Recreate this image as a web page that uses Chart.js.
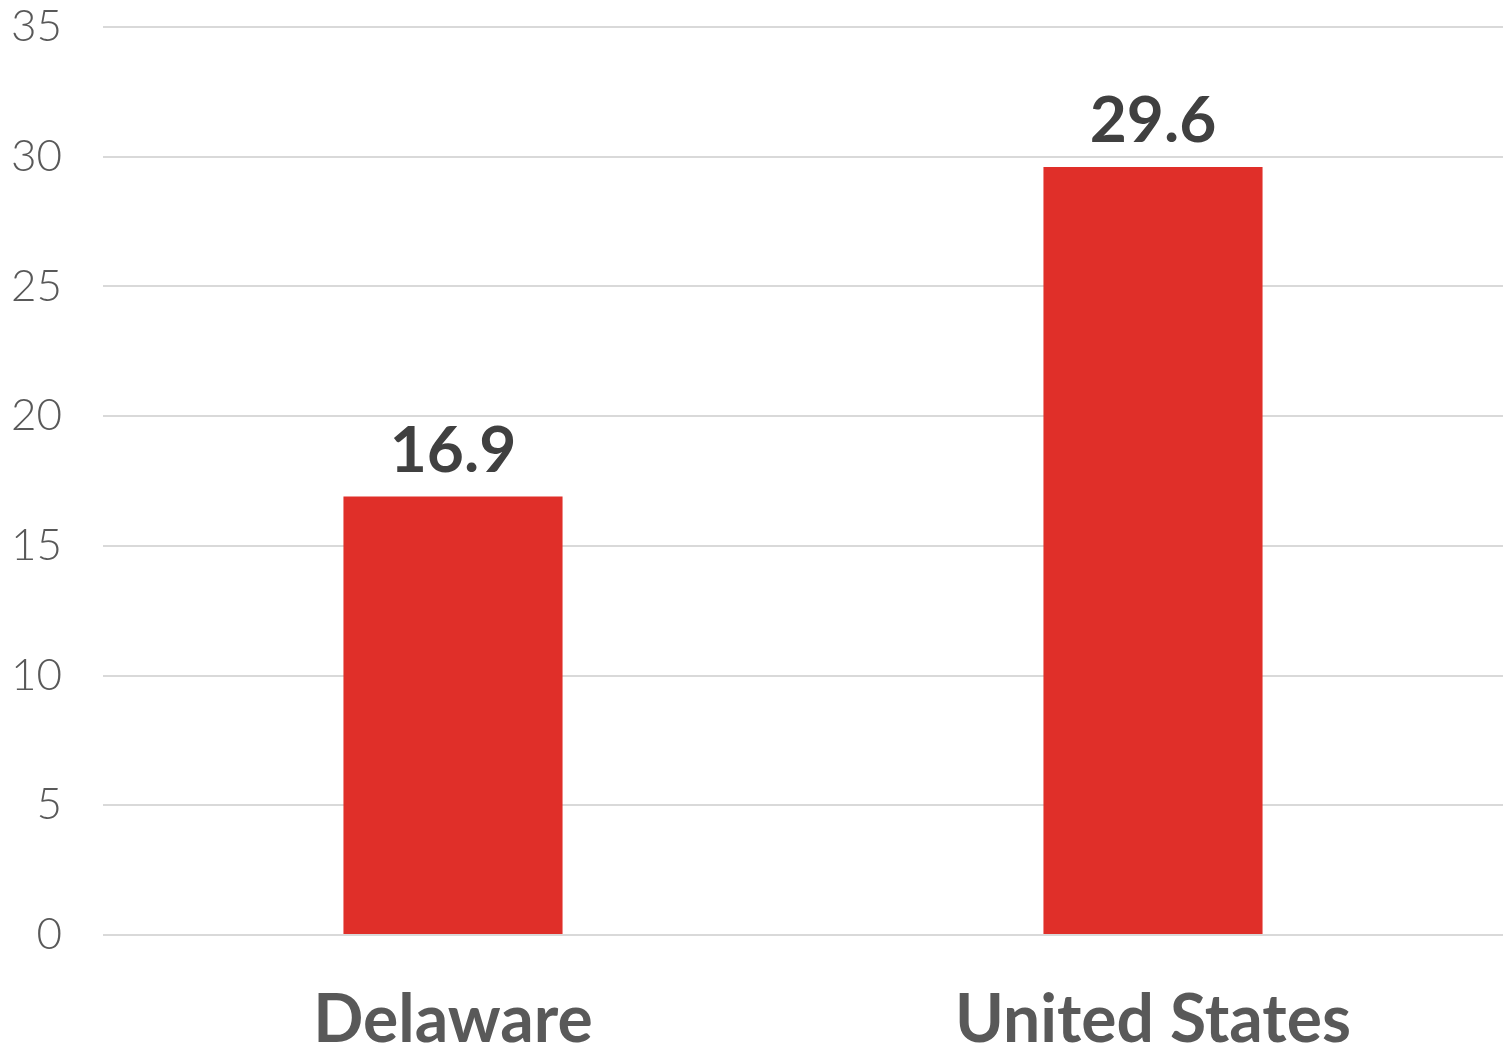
<!DOCTYPE html>
<html>
<head>
<meta charset="utf-8">
<script src="https://cdn.jsdelivr.net/npm/chart.js@4.4.0/dist/chart.umd.min.js"></script>
<style>
  html, body { margin: 0; padding: 0; background: #fff; }
  #wrap { width: 1512px; height: 1047px; }
</style>
</head>
<body>
<div id="wrap"><canvas id="myChart"></canvas></div>
<script>
const regions = ['Delaware', 'United States'];
const rates = [16.9, 29.6];
const yTicks = [0, 5, 10, 15, 20, 25, 30, 35];

// value labels above each bar
const barLabels = {
  id: 'barLabels',
  afterDatasetsDraw(chart) {
    const ctx = chart.ctx;
    const meta = chart.getDatasetMeta(0);
    ctx.save();
    ctx.font = 'bold 64px Lato';
    ctx.fillStyle = '#404040';
    ctx.textAlign = 'center';
    ctx.textBaseline = 'alphabetic';
    meta.data.forEach((bar, i) => {
      ctx.fillText(rates[i].toFixed(1), bar.x, bar.y - 25);
    });
    ctx.restore();
  }
};

const ctx = document.getElementById('myChart');
new Chart(ctx, {
  type: 'bar',
  data: {
    labels: regions,
    datasets: [{
      data: rates,
      backgroundColor: '#e02f29',
      barPercentage: 0.313,
      categoryPercentage: 1.0
    }]
  },
  options: {
    responsive: true,
    maintainAspectRatio: false,
    animation: false,
    layout: { padding: { top: 27, right: 9, left: 0, bottom: 0 } },
    plugins: { legend: { display: false }, tooltip: { enabled: false } },
    scales: {
      x: {
        grid: { display: false, drawTicks: false },
        border: { display: false },
        ticks: {
          color: '#595959',
          font: { family: 'Lato', size: 66, weight: 'bold' },
          padding: 46
        },
        afterFit: s => { s.height = 112; s.paddingLeft = 0; s.paddingRight = 0; }
      },
      y: {
        min: 0,
        max: 35,
        afterBuildTicks: s => { s.ticks = yTicks.map(v => ({ value: v })); },
        grid: { color: '#d9d9d9', lineWidth: 2, drawTicks: false },
        border: { display: false },
        ticks: {
          color: '#595959',
          font: { family: 'Lato', size: 44, weight: '300' },
          padding: 41
        },
        afterFit: s => { s.width = 103; s.paddingTop = 0; s.paddingBottom = 0; }
      }
    }
  },
  plugins: [barLabels]
});
</script>
</body>
</html>
